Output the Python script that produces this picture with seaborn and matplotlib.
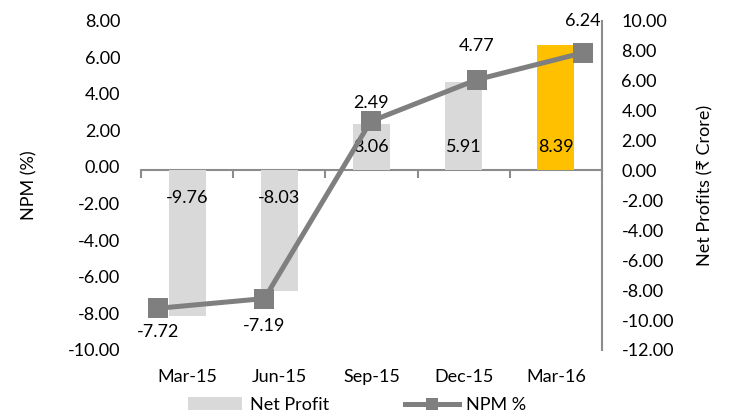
import numpy as np
import pandas as pd
import seaborn as sns
import matplotlib.pyplot as plt
from matplotlib.patches import Patch

# data
quarters = ['Mar-15', 'Jun-15', 'Sep-15', 'Dec-15', 'Mar-16']
net_profit = [-9.76, -8.03, 3.06, 5.91, 8.39]   # Rs crore, right axis (bars)
npm_pct = [-7.72, -7.19, 2.49, 4.77, 6.24]       # %, left axis (line)

# label offsets (points) for the NPM line labels
npm_label_offsets = [-17, -20, 13, 24, 23]

bar_gray = '#D9D9D9'
bar_yellow = '#FFC000'
line_gray = '#7F7F7F'
axis_gray = '#8C8C8C'

plt.rcParams['font.family'] = ['Lato', 'DejaVu Sans']
plt.rcParams['font.size'] = 13

df = pd.DataFrame({'quarter': quarters, 'net_profit': net_profit, 'npm': npm_pct})

fig = plt.figure(figsize=(7.29, 4.17), dpi=100)
rect = [0.1934, 0.1607, 0.6324, 0.790]
ax_bar = fig.add_axes(rect)
ax_line = fig.add_axes(rect)
ax_line.patch.set_alpha(0)

# bars on the right (Net Profits) axis
colors = [bar_gray] * 4 + [bar_yellow]
sns.barplot(data=df, x='quarter', y='net_profit', hue='quarter', palette=colors,
            width=0.4, legend=False, ax=ax_bar, saturation=1)
ax_bar.set_xlim(-0.5, 4.5)
ax_bar.set_ylim(-12, 10)
ax_bar.set_yticks(np.arange(-12, 10.1, 2))
ax_bar.set_yticklabels(['%.2f' % t for t in np.arange(-12, 10.1, 2)])
ax_bar.yaxis.tick_right()
ax_bar.yaxis.set_label_position('right')
ax_bar.set_ylabel('Net Profits (₹ Crore)', labelpad=17)
ax_bar.set_xlabel('')
ax_bar.tick_params(axis='y', length=0, pad=14)
ax_bar.tick_params(axis='x', length=0, pad=14)
for s in ['top', 'left', 'bottom']:
    ax_bar.spines[s].set_visible(False)
ax_bar.spines['right'].set_color(axis_gray)
ax_bar.spines['right'].set_linewidth(1.5)

# category axis line at zero of the bar axis, ticks between categories
lo, hi = ax_bar.get_ylim()
zero_axis = ax_bar.secondary_xaxis((0 - lo) / (hi - lo))
zero_axis.set_alignment('bottom')
zero_axis.set_xticks(np.arange(-0.5, len(quarters), 1))
zero_axis.tick_params(axis='x', length=6, width=1.5, color=axis_gray,
                      labelbottom=False, labeltop=False, direction='out')
zero_axis.spines['bottom'].set_color(axis_gray)
zero_axis.spines['bottom'].set_linewidth(1.5)

for i, v in enumerate(net_profit):
    off = 17 if v >= 0 else -20
    ax_bar.annotate('%.2f' % v, (i, 0), xytext=(0, off), textcoords='offset points',
                    ha='center', va='center')

# NPM line on the left axis
sns.lineplot(x=np.arange(len(quarters)), y=npm_pct, ax=ax_line, color=line_gray,
             lw=3.6, marker='s', markersize=14, markeredgewidth=0, label='NPM %',
             legend=False)
ax_line.set_xlim(-0.163, 4.179)
ax_line.set_ylim(-10, 8)
ax_line.set_yticks(np.arange(-10, 8.1, 2))
ax_line.set_yticklabels(['%.2f' % t for t in np.arange(-10, 8.1, 2)])
ax_line.set_xticks([])
ax_line.set_ylabel('NPM (%)', labelpad=22)
ax_line.tick_params(axis='y', length=0, pad=15)
for s in ax_line.spines.values():
    s.set_visible(False)

for i, v in enumerate(npm_pct):
    ax_line.annotate('%.2f' % v, (i, v), xytext=(0, npm_label_offsets[i]),
                     textcoords='offset points', ha='center', va='center')

handles = [Patch(facecolor=bar_gray, label='Net Profit'), ax_line.get_lines()[0]]
fig.legend(handles=handles, labels=['Net Profit', 'NPM %'], loc='center',
           bbox_to_anchor=(0.49, 0.029), ncol=2, frameon=False,
           handlelength=3.0, handletextpad=0.4, columnspacing=4.2, markerscale=0.6)

fig.savefig('out.png', dpi=100)
